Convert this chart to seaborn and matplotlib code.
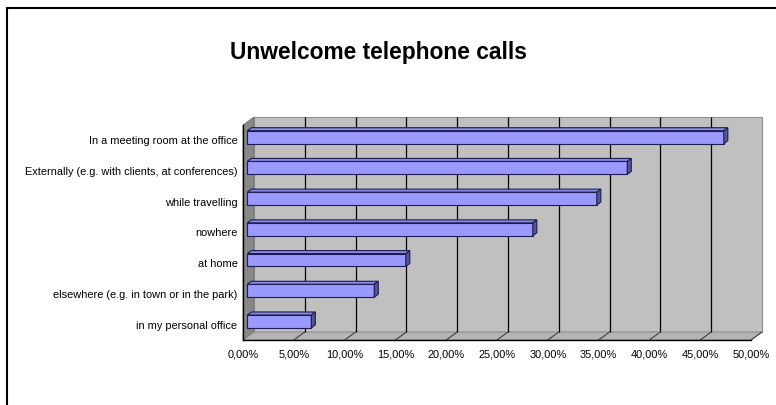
import numpy as np
import pandas as pd
import matplotlib
matplotlib.use('Agg')
import matplotlib.pyplot as plt
import matplotlib.transforms as mtransforms
from matplotlib.patches import Polygon, Rectangle
import seaborn as sns

# Dữ liệu (đơn vị %)
places = ['In a meeting room at the office',
          'Externally (e.g. with clients, at conferences)',
          'while travelling',
          'nowhere',
          'at home',
          'elsewhere (e.g. in town or in the park)',
          'in my personal office']
shares = [46.9, 37.4, 34.4, 28.1, 15.6, 12.5, 6.3]
x_ticks = [0, 5, 10, 15, 20, 25, 30, 35, 40, 45, 50]

df = pd.DataFrame({'place': places, 'share': shares})

sns.set_style('white')
plt.rcParams['font.family'] = ['Liberation Sans', 'DejaVu Sans']
plt.rcParams['text.color'] = 'black'
plt.rcParams['xtick.color'] = 'black'
plt.rcParams['ytick.color'] = 'black'

W, H = 776, 405
fig = plt.figure(figsize=(W / 100, H / 100), dpi=100)
# mặt phẳng phía trước của khung 3D (pixel)
left, right, top, bottom = 243, 751, 125, 340
ax = fig.add_axes([left / W, 1 - bottom / H, (right - left) / W, (bottom - top) / H])
ax.patch.set_alpha(0)

# độ lệch chiều sâu (pixel)
DX, DY = 11, 8
dxa, dya = DX / (right - left), DY / (bottom - top)

sns.barplot(data=df, x='share', y='place', orient='h', color='#9999ff',
            edgecolor='#1c1c50', linewidth=0.8, width=0.42, saturation=1,
            ax=ax, zorder=4)

ax.set_xlim(0, 50)
ax.set_ylim(len(places) - 0.5, -0.5)
ax.set_xticks(x_ticks)
ax.set_xticklabels([f'{v:.2f}%'.replace('.', ',') for v in x_ticks], fontsize=7.9)
ax.set_yticks(range(len(places)))
ax.set_yticklabels(places, fontsize=7.9)
ax.set_yticks(np.arange(-0.5, len(places), 1), minor=True)
ax.tick_params(axis='y', which='major', length=0, pad=4)
ax.tick_params(axis='y', which='minor', length=3, width=0.8, direction='out', color='black')
ax.tick_params(axis='x', length=3, width=0.8, direction='out', color='black', pad=3.5)
ax.set_xlabel('')
ax.set_ylabel('')
ax.grid(False)
for s in ['top', 'right']:
    ax.spines[s].set_visible(False)
for s in ['left', 'bottom']:
    ax.spines[s].set_color('black')
    ax.spines[s].set_linewidth(1)
    ax.spines[s].set_zorder(6)

# tường sau, tường trái và sàn
ax.add_patch(Rectangle((dxa, dya), 1, 1, transform=ax.transAxes, facecolor='#c0c0c0',
                       edgecolor='#909090', lw=0.8, clip_on=False, zorder=0))
ax.add_patch(Polygon([(0, 0), (0, 1), (dxa, 1 + dya), (dxa, dya)], closed=True,
                     transform=ax.transAxes, facecolor='#888888', edgecolor='#707070',
                     lw=0.6, clip_on=False, zorder=1))
ax.add_patch(Polygon([(0, 0), (1, 0), (1 + dxa, dya), (dxa, dya)], closed=True,
                     transform=ax.transAxes, facecolor='#b4b4b4', edgecolor='#808080',
                     lw=0.6, clip_on=False, zorder=1))

# đường lưới trên tường sau và trên sàn
back = mtransforms.offset_copy(ax.get_xaxis_transform(), fig=fig, x=DX, y=DY, units='dots')
ax.vlines(x_ticks[1:-1], 0, 1, transform=back, colors='black', lw=0.9, clip_on=False, zorder=2)
xform = ax.get_xaxis_transform()
for v in x_ticks[1:]:
    p0 = xform.transform((v, 0))
    ax.add_line(plt.Line2D([p0[0], p0[0] + DX], [p0[1], p0[1] + DY], color='#404040',
                           lw=0.8, transform=None, clip_on=False, zorder=2))

# hiệu ứng 3D cho các thanh
FX, FY = 4.3, 3.2   # vị trí mặt trước trong chiều sâu
BX, BY = 4.0, 3.0   # độ dày thanh
front = mtransforms.offset_copy(ax.transData, fig=fig, x=FX, y=FY, units='dots')
for bar in ax.patches[:]:
    if not isinstance(bar, Rectangle) or bar.get_zorder() != 4:
        continue
    x0, y0 = bar.get_x(), bar.get_y()
    x1, y1 = x0 + bar.get_width(), y0 + bar.get_height()
    (X0, Ya), (X1, Yb) = ax.transData.transform([(x0, y0), (x1, y1)])
    Yt, Ybt = max(Ya, Yb) + FY, min(Ya, Yb) + FY
    X0, X1 = X0 + FX, X1 + FX
    bar.set_transform(front)
    bar.set_clip_on(False)
    top_face = Polygon([(X0, Yt), (X1, Yt), (X1 + BX, Yt + BY), (X0 + BX, Yt + BY)],
                       closed=True, transform=None, facecolor='#8a8ae6',
                       edgecolor='#1c1c50', lw=0.8, clip_on=False, zorder=3.5)
    side_face = Polygon([(X1, Ybt), (X1, Yt), (X1 + BX, Yt + BY), (X1 + BX, Ybt + BY)],
                        closed=True, transform=None, facecolor='#555599',
                        edgecolor='#1c1c50', lw=0.8, clip_on=False, zorder=3.5)
    fig.add_artist(top_face)
    fig.add_artist(side_face)

fig.text(378.5 / W, 1 - 52 / H, 'Unwelcome telephone calls', ha='center', va='center',
         fontsize=16.4, fontweight='bold', color='black')

# khung viền của vùng biểu đồ
fig.add_artist(Rectangle((7 / W, -0.1), 1.2, 1 - 8 / H + 0.1, transform=fig.transFigure,
                         fill=False, edgecolor='black', lw=1.5))

plt.savefig('out.png', dpi=100)
plt.close()
